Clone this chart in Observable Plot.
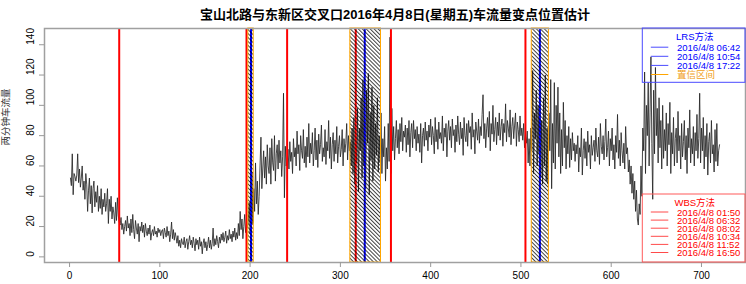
<!DOCTYPE html>
<html><head><meta charset="utf-8">
<script src="https://cdn.jsdelivr.net/npm/d3@7"></script>
<script src="https://cdn.jsdelivr.net/npm/@observablehq/plot@0.6"></script>
<style>body{margin:0;background:#fff}#chart svg{display:block}</style>
</head><body><div id="chart"></div>
<script>
const title = "宝山北路与东新区交叉口2016年4月8日(星期五)车流量变点位置估计";
const yLabel = "两分钟车流量";
const xTicks = [0, 100, 200, 300, 400, 500, 600, 700];
const yTicks = [0, 20, 40, 60, 80, 100, 120, 140];
const dateLabel = "2016/4/8";
const wbsTitle = "WBS方法";
const lrsTitle = "LRS方法";
const ciLabel = "置信区间";
const wbsTimes = ["01:50", "06:32", "08:02", "10:34", "11:52", "16:50"];
const lrsTimes = ["06:42", "10:54", "17:22"];
const ciLow = [198, 311, 512];
const ciHigh = [204, 345, 531];
const flow = [
52,47,68,41,55,53,50,54,68,49,
58,46,52,60,44,50,38,55,48,30,
44,52,35,47,29,45,50,33,43,36,
47,30,40,32,45,28,38,33,42,30,
35,45,22,38,30,40,25,33,29,22,
36,24,39,27,23,21,26,18,22,15,
20,24,17,27,19,22,14,25,16,28,
18,12,24,19,15,22,10,20,17,23,
16,21,13,22,17,14,19,15,21,11,
16,18,14,20,15,17,13,19,16,18,
14,17,18,12,19,16,13,20,14,17,
10,15,23,12,18,11,16,13,9,14,
7,11,6,12,9,8,13,6,10,12,
5,10,14,8,11,6,13,9,4,12,
8,11,5,13,7,10,2,9,12,6,
10,4,8,13,6,11,5,9,19,7,
12,8,14,10,6,13,9,15,11,16,
10,13,17,9,14,11,18,12,15,10,
17,13,19,11,16,12,22,14,30,18,
25,12,20,28,16,22,19,24,36,15,
30,56,22,45,30,62,35,50,28,40,
60,79,45,58,70,52,66,48,74,60,
55,72,48,78,62,57,80,50,68,74,
58,77,62,70,53,66,108,39,73,60,
64,71,58,76,63,69,55,78,66,72,
60,83,68,74,57,80,70,65,84,62,
73,59,79,66,88,62,75,68,82,60,
70,85,64,77,59,81,68,74,87,63,
72,66,84,61,76,70,90,65,79,58,
74,82,63,77,68,86,62,73,80,66,
71,84,60,78,69,75,88,64,80,70,
76,60,85,55,92,48,80,62,98,43,
85,70,105,52,117,60,90,45,110,75,
121,41,95,64,112,50,100,58,88,67,
105,56,80,62,95,55,78,66,86,50,
72,58,88,63,145,55,98,70,86,64,
78,90,72,84,68,88,76,92,70,83,
79,87,69,85,74,90,66,82,88,72,
90,78,84,70,86,75,81,69,88,62,
80,85,73,89,77,83,70,87,79,91,
74,86,80,68,92,76,84,71,89,78,
82,75,93,70,85,79,88,66,83,90,
77,86,72,91,80,84,69,87,76,93,
81,74,89,78,85,67,92,80,76,88,
73,90,82,86,71,95,79,84,68,89,
83,77,91,75,86,80,94,107,78,88,
72,85,92,79,96,70,88,81,100,76,
84,92,74,89,80,95,77,86,91,73,
88,82,101,76,90,85,79,97,74,86,
92,78,87,95,73,89,84,76,93,80,
85,77,88,72,80,75,83,62,78,60,
85,70,123,55,95,78,110,60,100,68,
115,52,90,48,105,60,120,50,85,48,
95,70,117,45,88,62,115,58,100,75,
112,66,95,55,84,60,102,72,90,58,
80,68,86,59,78,64,82,70,75,63,
74,68,80,56,72,66,85,54,70,78,
65,76,60,83,69,74,58,80,67,72,
77,63,85,70,66,79,61,88,73,68,
80,64,76,91,66,72,83,60,78,70,
85,64,74,58,80,69,94,65,77,60,
82,70,62,75,58,86,68,72,56,64,
48,60,42,55,38,50,30,44,25,21,
35,28,60,40,85,70,122,55,100,80,
115,60,95,132,75,38,110,68,125,80,
98,62,105,72,90,58,100,65,84,70,
95,60,88,74,102,55,82,68,92,60,
78,85,62,96,70,80,58,88,66,76,
90,64,80,55,85,72,97,62,78,68,
86,60,82,70,94,65,78,108,62,85,
70,92,58,80,66,88,54,76,82,62,
90,68,74,56,84,63,88,60,70,74
];

const W = 746, H = 284, mL = 44, mR = 1, mT = 28, mB = 22;
const toIndex = t => { const [h, m] = t.split(":").map(Number); return (h * 60 + m) / 2; };
const pad = ([a, b]) => [a - 0.04 * (b - a), b + 0.04 * (b - a)];
const xDom = pad([1, flow.length]);
const yDom = pad(d3.extent(flow));
const ciData = ciLow.map((lo, i) => ({lo, hi: ciHigh[i]}));
const sans = "'Liberation Sans', Arial, 'Noto Sans CJK SC', sans-serif";
const cjk = "'Liberation Sans', 'Noto Sans CJK SC', sans-serif";

const chart = Plot.plot({
  width: W, height: H,
  marginLeft: mL, marginRight: mR, marginTop: mT, marginBottom: mB,
  style: {fontFamily: sans, fontSize: "10px", background: "#fff", color: "#000"},
  x: {domain: xDom, axis: null},
  y: {domain: yDom, axis: null},
  marks: [
    Plot.line(flow, {x: (d, i) => i + 1, y: d => d, stroke: "#262626", strokeWidth: 0.85}),
    Plot.ruleX(wbsTimes.map(toIndex), {stroke: "#ff0000", strokeWidth: 2}),
    Plot.ruleX(lrsTimes.map(toIndex), {stroke: "#0000ff", strokeWidth: 2}),
    Plot.rect(ciData, {x1: "lo", x2: "hi", y1: () => yDom[0], y2: () => yDom[1], fill: "url(#hatch)", stroke: "#ffa500", strokeWidth: 1}),
    Plot.frame({stroke: "#a0a0a0", strokeWidth: 1.5}),
    Plot.axisX({ticks: xTicks, tickSize: 5, tickPadding: 4, stroke: "#999", fill: "#000", fontSize: 10}),
    Plot.axisY({ticks: yTicks, tickSize: 5, tickFormat: () => "", stroke: "#999"}),
    Plot.text(yTicks, {y: d => d, text: d => String(d), frameAnchor: "left", dx: -14, rotate: -90, fontSize: 10, fill: "#000"}),
    Plot.text([yLabel], {frameAnchor: "left", dx: -39, rotate: -90, fontSize: 9.5, fontFamily: cjk, fill: "#333"}),
    Plot.text([title], {frameAnchor: "top", dy: -19, fontSize: 13, fontWeight: "bold", fontFamily: cjk, fill: "#000"})
  ]
});

const svg = d3.select(chart);
svg.insert("defs", ":first-child").html(
  '<pattern id="hatch" patternUnits="userSpaceOnUse" width="2.8" height="2.8" patternTransform="rotate(-45)">' +
  '<line x1="0.5" y1="0" x2="0.5" y2="2.8" stroke="#000" stroke-width="0.75"/></pattern>');

function legend(top, height, boxColor, head, headColor, entries, first, step) {
  const left = W - mR - 102.7;
  const g = svg.append("g").attr("font-family", cjk).attr("font-size", 9.5);
  g.append("rect").attr("x", left).attr("y", top).attr("width", W - mR - left).attr("height", height)
    .attr("fill", "none").attr("stroke", boxColor).attr("stroke-width", 1);
  g.append("text").attr("x", left + 52.5).attr("y", top + 8.3).attr("text-anchor", "middle")
    .attr("dominant-baseline", "central").attr("fill", headColor).text(head);
  entries.forEach((e, k) => {
    const y = top + first + k * step;
    g.append("line").attr("x1", left + 8.5).attr("x2", left + 26).attr("y1", y).attr("y2", y)
      .attr("stroke", e.line).attr("stroke-width", 1);
    g.append("text").attr("x", left + 34.7).attr("y", y).attr("text-anchor", "start")
      .attr("dominant-baseline", "central").attr("fill", e.color).text(e.label);
  });
}

legend(mT, 54.3, "#4a4aff", lrsTitle, "#0000ff",
  lrsTimes.map(t => ({label: dateLabel + " " + t, color: "#0000ff", line: "#4a4aff"}))
    .concat([{label: ciLabel, color: "#f0a020", line: "#ffa500"}]), 19.2, 9.1);
legend(H - mB - 68, 68, "#ff5a5a", wbsTitle, "#ff0000",
  wbsTimes.map(t => ({label: dateLabel + " " + t, color: "#ff0000", line: "#ff4a4a"})), 18, 8.1);

document.getElementById("chart").appendChild(chart);
</script>
</body></html>
